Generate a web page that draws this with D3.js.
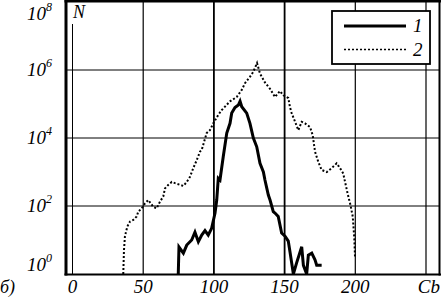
<!DOCTYPE html>
<html>
<head>
<meta charset="utf-8">
<script src="https://cdn.jsdelivr.net/npm/d3@7"></script>
<style>
  body { margin: 0; background: #fff; }
  text { font-family: "Liberation Serif", "Times New Roman", serif; font-style: italic; fill: #000; }
</style>
</head>
<body>
<div id="chart-area"></div>
<script>
// channel -> counts N
const ch1 = [74.8, 75.3, 78.4, 80.8, 84.3, 86.6, 89.0, 91.4, 93.7, 96.0, 98.4, 100.8, 102.0, 103.1, 104.3,
  106.6, 109.1, 111.4, 112.6, 114.9, 117.3, 118.5, 119.7, 123.2, 125.5, 127.9, 130.3, 132.6, 135.0, 136.1,
  138.5, 139.7, 142.0, 143.2, 145.5, 147.9, 150.3, 152.6, 153.8, 156.2, 158.6, 162.1, 163.3, 165.6, 166.8,
  169.2, 171.5, 172.7, 176.2]
const n1 = [1, 6.2, 4.1, 7.1, 10, 17, 8.9, 14, 19, 14, 22, 62, 150, 650, 580,
  2800, 14000, 27000, 54000, 79000, 93000, 120000, 83000, 54000, 27000, 10000, 5500, 1800, 1000, 580,
  210, 150, 68, 62, 49, 16, 13, 9.3, 4.5, 1, 2.2, 6.3, 1.8, 1, 3.6,
  4.1, 2.6, 1.8, 1.8]

const ch2 = [35.9, 36.4, 37.1, 38.8, 40.7, 43.0, 45.4, 46.5, 48.9, 51.3, 53.6, 57.1, 59.5, 61.9, 64.2,
  65.4, 67.8, 70.2, 72.5, 76.0, 78.4, 80.8, 83.1, 85.4, 87.8, 90.2, 91.4, 94.9, 97.2, 99.6,
  103.1, 105.5, 111.4, 116.1, 119.7, 122.0, 125.5, 127.9, 130.5, 132.6, 136.1, 139.7, 143.2, 146.7, 149.1,
  152.6, 153.8, 155.0, 157.4, 159.7, 162.1, 164.4, 168.0, 169.9, 171.5, 173.8, 176.2, 179.8, 183.3, 186.8,
  189.2, 191.5, 192.2, 194.6, 196.5, 198.2, 199.3, 199.8]
const n2 = [1, 5, 13, 25, 35, 39, 49, 68, 85, 120, 150, 95, 85, 135, 190,
  330, 420, 510, 470, 420, 390, 510, 720, 1300, 2200, 4000, 4500, 14000, 17000, 27000,
  48000, 66000, 120000, 160000, 260000, 410000, 630000, 890000, 1600000, 790000, 430000, 280000, 160000, 240000, 180000,
  150000, 81000, 54000, 30000, 17000, 30000, 27000, 21000, 12000, 4000, 2000, 1150, 1000, 1300, 1800,
  1300, 900, 650, 230, 110, 49, 11, 3.2]

const xTicks = [0, 50, 100, 150, 200]
const yExps = [0, 2, 4, 6, 8]
const seriesNames = ["1", "2"]

const W = 441, H = 300
const svg = d3.select("#chart-area").append("svg")
  .attr("width", W)
  .attr("height", H)

const x = d3.scaleLinear().domain([0, 250]).range([72.5, 426])
const y = d3.scaleLog().domain([1, 1e8]).range([274, 2])

// grid
svg.append("g").selectAll("line").data([50, 100, 150, 200, 250]).enter().append("line")
  .attr("x1", d => x(d)).attr("x2", d => x(d))
  .attr("y1", 1).attr("y2", 274)
  .attr("stroke", "#000")
  .attr("stroke-width", d => (d == 100 || d == 150) ? 1.8 : 1.2)
svg.append("line")
  .attr("x1", x(0)).attr("x2", x(0)).attr("y1", 24).attr("y2", 274)
  .attr("stroke", "#000").attr("stroke-width", 1)
svg.append("g").selectAll("line").data([2, 4, 6]).enter().append("line")
  .attr("x1", 66).attr("x2", 439)
  .attr("y1", d => y(Math.pow(10, d))).attr("y2", d => y(Math.pow(10, d)))
  .attr("stroke", "#000").attr("stroke-width", 1)

// series
const data1 = ch1.map((c, i) => ({c: c, n: n1[i]}))
const data2 = ch2.map((c, i) => ({c: c, n: n2[i]}))
const line = d3.line().x(d => x(d.c)).y(d => y(d.n))

svg.append("path").datum(data2)
  .attr("d", line)
  .attr("fill", "none")
  .attr("stroke", "#000")
  .attr("stroke-width", 2)
  .attr("stroke-dasharray", "2,2")

svg.append("path").datum(data1)
  .attr("d", line)
  .attr("fill", "none")
  .attr("stroke", "#000")
  .attr("stroke-width", 3)
  .attr("stroke-linejoin", "miter")

// frame
svg.append("line").attr("x1", 66).attr("x2", 66).attr("y1", 0).attr("y2", 275.5).attr("stroke", "#000").attr("stroke-width", 3)
svg.append("line").attr("x1", 64.5).attr("x2", 441).attr("y1", 1.2).attr("y2", 1.2).attr("stroke", "#000").attr("stroke-width", 2.5)
svg.append("line").attr("x1", 439.5).attr("x2", 439.5).attr("y1", 0).attr("y2", 275.5).attr("stroke", "#000").attr("stroke-width", 2)
svg.append("line").attr("x1", 64.5).attr("x2", 441).attr("y1", 274.5).attr("y2", 274.5).attr("stroke", "#000").attr("stroke-width", 2.2)

// y labels
const yLab = svg.append("g").selectAll("text").data(yExps).enter().append("text")
  .attr("x", 27)
  .attr("y", d => d == 8 ? 20 : d == 0 ? 271 : y(Math.pow(10, d)) + 6)
  .attr("font-size", 19)
yLab.append("tspan").text("10")
yLab.append("tspan").attr("font-size", 12).attr("dy", -9).text(d => d)

// x labels
svg.append("g").selectAll("text").data(xTicks).enter().append("text")
  .attr("x", d => x(d))
  .attr("y", 293)
  .attr("font-size", 19)
  .attr("text-anchor", "middle")
  .text(d => d)

svg.append("text").attr("x", 440).attr("y", 293).attr("font-size", 19).attr("text-anchor", "end").text("Cb")
svg.append("text").attr("x", 0).attr("y", 293).attr("font-size", 18).text("б)")
svg.append("text").attr("x", 73).attr("y", 18).attr("font-size", 18).text("N")

// legend
const lg = svg.append("g")
lg.append("rect").attr("x", 332).attr("y", 11).attr("width", 98).attr("height", 53)
  .attr("fill", "#fff").attr("stroke", "#000").attr("stroke-width", 1.8)
lg.append("line").attr("x1", 344).attr("x2", 406).attr("y1", 26).attr("y2", 26)
  .attr("stroke", "#000").attr("stroke-width", 3)
lg.append("line").attr("x1", 344).attr("x2", 406).attr("y1", 49.5).attr("y2", 49.5)
  .attr("stroke", "#000").attr("stroke-width", 1.7).attr("stroke-dasharray", "2,2")
lg.selectAll(".lab").data(seriesNames).enter().append("text")
  .attr("x", 413)
  .attr("y", (d, i) => i == 0 ? 32 : 56)
  .attr("font-size", 19)
  .text(d => d)
</script>
</body>
</html>
